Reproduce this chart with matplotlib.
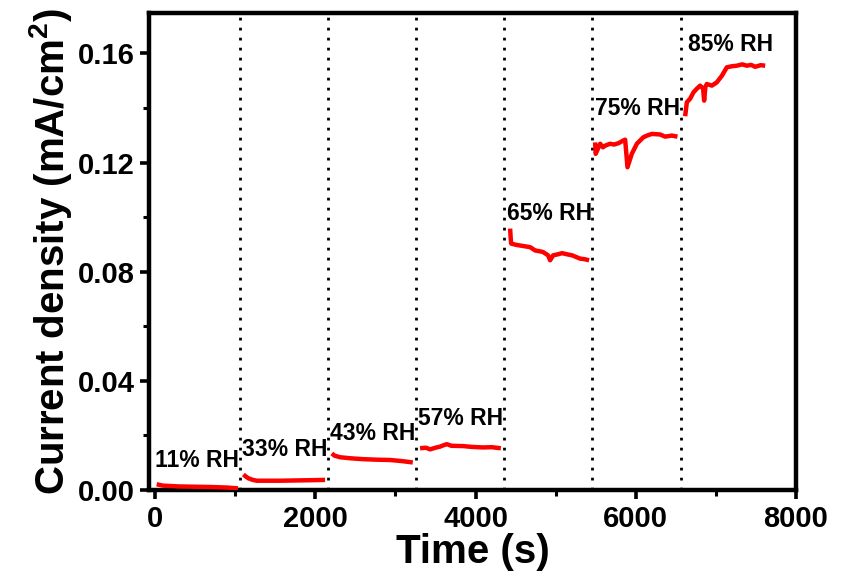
import matplotlib
matplotlib.use('Agg')
import matplotlib.pyplot as plt
from matplotlib.ticker import MultipleLocator, FormatStrFormatter

plt.rcParams['font.family'] = ['Liberation Sans', 'DejaVu Sans']
plt.rcParams['font.weight'] = 'bold'
plt.rcParams['mathtext.fontset'] = 'custom'
plt.rcParams['mathtext.rm'] = 'Liberation Sans:bold'
plt.rcParams['mathtext.bf'] = 'Liberation Sans:bold'

# ---- data ----
t_11 = [20, 100, 300, 500, 700, 900, 1036]
j_11 = [0.0021, 0.0016, 0.0013, 0.0012, 0.0011, 0.0009, 0.0006]

t_33 = [1103, 1130, 1165, 1220, 1270, 1400, 1560, 1750, 1950, 2122]
j_33 = [0.0057, 0.0050, 0.0043, 0.0037, 0.0034, 0.0034, 0.0034, 0.0035, 0.0036, 0.0037]

t_43 = [2206, 2240, 2310, 2450, 2600, 2780, 2934, 3080, 3217]
j_43 = [0.0134, 0.0126, 0.0120, 0.0116, 0.0113, 0.0111, 0.0110, 0.0106, 0.0101]

t_57 = [3308, 3380, 3433, 3500, 3558, 3600, 3642, 3700, 3845, 3950, 4095, 4200, 4316]
j_57 = [0.0153, 0.0155, 0.0149, 0.0155, 0.0159, 0.0164, 0.0168, 0.0162, 0.0161, 0.0158, 0.0156, 0.0157, 0.0153]

t_65 = [4432, 4440, 4445, 4500, 4557, 4620, 4682, 4744, 4800, 4844, 4906, 4931, 4969, 5030, 5081, 5140, 5206, 5306, 5360, 5418]
j_65 = [0.0958, 0.0920, 0.0903, 0.0899, 0.0896, 0.0893, 0.0890, 0.0878, 0.0875, 0.0872, 0.0860, 0.0842, 0.0860, 0.0864, 0.0868, 0.0864, 0.0860, 0.0848, 0.0846, 0.0842]

t_75 = [5493, 5500, 5518, 5556, 5590, 5618, 5680, 5730, 5784, 5846, 5868, 5897, 5951, 6014, 6096, 6150, 6201, 6305, 6367, 6451, 6521]
j_75 = [0.1274, 0.1232, 0.1244, 0.1269, 0.1256, 0.1262, 0.1269, 0.1266, 0.1271, 0.1281, 0.1284, 0.1183, 0.1232, 0.1269, 0.1293, 0.1300, 0.1305, 0.1303, 0.1295, 0.1299, 0.1295]

t_85 = [6617, 6638, 6679, 6720, 6760, 6804, 6841, 6854, 6870, 6888, 6950, 7012, 7075, 7137, 7200, 7262, 7330, 7387, 7440, 7491, 7560, 7616]
j_85 = [0.1370, 0.1421, 0.1434, 0.1457, 0.1470, 0.1482, 0.1471, 0.1427, 0.1478, 0.1488, 0.1482, 0.1494, 0.1518, 0.1549, 0.1553, 0.1555, 0.1560, 0.1555, 0.1558, 0.1551, 0.1557, 0.1555]

segments_t = [t_11, t_33, t_43, t_57, t_65, t_75, t_85]
segments_j = [j_11, j_33, j_43, j_57, j_65, j_75, j_85]

switch_times = [1060, 2160, 3260, 4360, 5460, 6560]

rh_labels = ['11% RH', '33% RH', '43% RH', '57% RH', '65% RH', '75% RH', '85% RH']
label_t = [0, 1086, 2185, 3283, 4395, 5493, 6654]
label_j = [0.0108, 0.0147, 0.0207, 0.0262, 0.1012, 0.1398, 0.1632]

# ---- figure ----
fig = plt.figure(figsize=(8.59, 5.79), dpi=100)
ax = fig.add_axes([0.1740, 0.1537, 0.7526, 0.8247])

for x in switch_times:
    ax.axvline(x, color='black', linestyle=(0, (1, 2.6)), lw=2.0, zorder=1)

for t, j in zip(segments_t, segments_j):
    ax.plot(t, j, color='#ff0000', lw=3.2, solid_capstyle='butt', solid_joinstyle='round', zorder=3)

for lab, x, y in zip(rh_labels, label_t, label_j):
    ax.text(x, y, lab, fontsize=16.5, fontweight='bold', ha='left', va='center', zorder=4)

ax.set_xlim(-70, 8000)
ax.set_ylim(0, 0.175)
ax.xaxis.set_major_locator(MultipleLocator(2000))
ax.xaxis.set_minor_locator(MultipleLocator(1000))
ax.yaxis.set_major_locator(MultipleLocator(0.04))
ax.yaxis.set_minor_locator(MultipleLocator(0.02))
ax.yaxis.set_major_formatter(FormatStrFormatter('%.2f'))

for s in ax.spines.values():
    s.set_linewidth(3.2)
ax.tick_params(which='major', direction='out', length=6.5, width=2.6, labelsize=21, pad=4)
ax.tick_params(which='minor', direction='out', length=4, width=2.2)
for lbl in ax.get_xticklabels() + ax.get_yticklabels():
    lbl.set_fontweight('bold')

ax.set_xlabel('Time (s)', fontsize=29, fontweight='bold', labelpad=0)
ax.set_ylabel(r'Current density (mA/cm$^{\mathbf{2}}$)', fontsize=29, fontweight='bold', labelpad=3)

fig.savefig('out.png', dpi=100)
